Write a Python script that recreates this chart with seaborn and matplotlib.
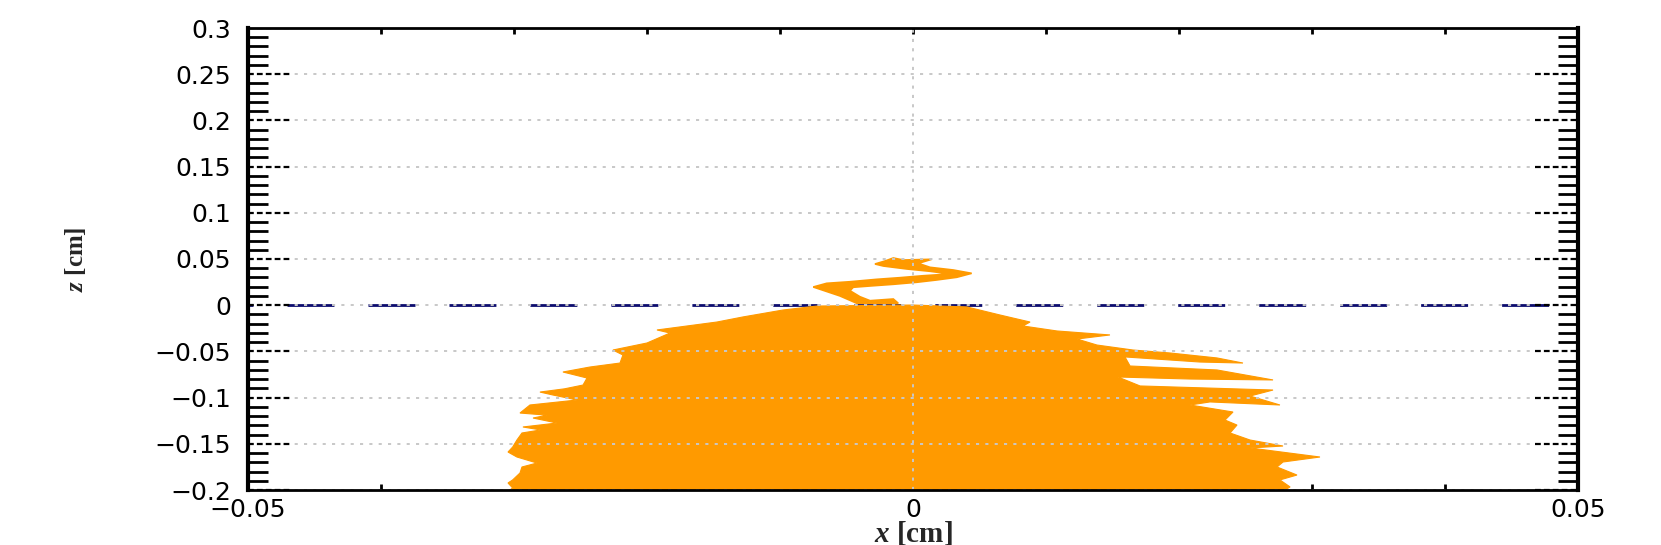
import numpy as np
import pandas as pd
import seaborn as sns
import matplotlib.pyplot as plt
from matplotlib.ticker import FixedLocator, MultipleLocator, FuncFormatter
import matplotlib.transforms as mtransforms

# outline of the orange cloud, left edge (bottom -> top)
left_x = [-0.0303, -0.0301, -0.03045, -0.0301, -0.02955, -0.0294, -0.02827, -0.02978,
          -0.03045, -0.0301, -0.02978, -0.0294, -0.0280, -0.02933, -0.02677, -0.02857,
          -0.0275, -0.02955, -0.0288, -0.02526, -0.02707, -0.02805, -0.0262, -0.02481,
          -0.02451, -0.02632, -0.02429, -0.02203, -0.02181, -0.02256, -0.0200, -0.01827,
          -0.01925, -0.01474, -0.01278, -0.00977, -0.00722, 0.0]
left_z = [-0.2000, -0.1978, -0.1924, -0.1891, -0.1816, -0.1751, -0.1708, -0.1643,
          -0.1589, -0.1535, -0.1459, -0.1383, -0.1350, -0.1318, -0.1275, -0.1221,
          -0.1190, -0.1167, -0.1080, -0.1026, -0.0972, -0.0940, -0.0905, -0.0864,
          -0.0788, -0.0723, -0.0669, -0.0626, -0.0539, -0.0485, -0.0409, -0.0301,
          -0.0268, -0.0182, -0.0127, -0.0052, -0.0009, 0.0002]

# right edge (top -> bottom), with the white streaks between fingers
right_x = [0.00406, 0.00654, 0.0088, 0.00827, 0.01083, 0.01481, 0.01233, 0.01383,
           0.01654, 0.01932, 0.02286, 0.02481, 0.02158, 0.01594, 0.01632, 0.02286,
           0.02707, 0.02083, 0.01541, 0.01707, 0.02707, 0.02534, 0.02759, 0.02233,
           0.02083, 0.02406, 0.02346, 0.02436, 0.02384, 0.02534, 0.02782, 0.02534,
           0.0306, 0.02782, 0.02737, 0.02887, 0.02759, 0.02835, 0.02797]
right_z = [-0.0019, -0.0106, -0.0182, -0.0225, -0.0279, -0.0322, -0.0366, -0.0431,
           -0.0485, -0.0517, -0.0571, -0.0626, -0.0615, -0.0560, -0.0658, -0.0701,
           -0.0809, -0.0799, -0.0777, -0.0874, -0.0918, -0.0983, -0.1080, -0.1047,
           -0.1080, -0.1156, -0.1243, -0.1297, -0.1383, -0.1459, -0.1524, -0.1545,
           -0.1643, -0.1697, -0.1751, -0.1838, -0.1891, -0.1967, -0.2000]

# zig-zag tail rising above z = 0
tail_x = [-0.00423, -0.00549, -0.0075, -0.00649, -0.00474, -0.00273, -0.00098, 0.00077,
          0.00278, 0.00128, -0.00047, -0.00223, -0.00286, -0.00211, -0.00148, -0.00073,
          0.00141, 0.0004, 0.00128, 0.00303, 0.00441, 0.00329, 0.00178, 0.00028,
          -0.00148, -0.00323, -0.00449, -0.00474, -0.00399, -0.00323, -0.00148, -0.00111]
tail_z = [0.0021, 0.0100, 0.0197, 0.0237, 0.0254, 0.0280, 0.0298, 0.0319,
          0.0338, 0.0367, 0.0392, 0.0424, 0.0446, 0.0478, 0.0511, 0.0489,
          0.0497, 0.0453, 0.0410, 0.0381, 0.0345, 0.0302, 0.0273, 0.0248,
          0.0226, 0.0208, 0.0194, 0.0157, 0.0092, 0.0049, 0.0067, 0.0021]

surface_x = [-0.05, 0.05]
surface_z = [0.0, 0.0]

xticks = [-0.05, -0.04, -0.03, -0.02, -0.01, 0.0, 0.01, 0.02, 0.03, 0.04, 0.05]
xlabeled = [-0.05, 0.0, 0.05]
yticks = [-0.2, -0.15, -0.1, -0.05, 0.0, 0.05, 0.1, 0.15, 0.2, 0.25, 0.3]

sns.set_theme(style="white")
plt.rcParams["font.family"] = ["DejaVu Sans"]
plt.rcParams["mathtext.fontset"] = "custom"
plt.rcParams["mathtext.it"] = "Liberation Serif:italic:bold"
plt.rcParams["mathtext.rm"] = "Liberation Serif:bold"

fig = plt.figure(figsize=(16.61, 5.45), dpi=100)
ax = fig.add_axes([248 / 1661, 1 - 490 / 545, 1330 / 1661, 462 / 545])

# z = 0 line, under the cloud
lw_s = 2.0
surf = pd.DataFrame({"x": surface_x, "z": surface_z})
sns.lineplot(data=surf, x="x", y="z", ax=ax, color="#0c0c6e", lw=lw_s, zorder=1,
             estimator=None, sort=False)
ax.lines[-1].set_linestyle((30.2 / lw_s, (33.8 / lw_s, 24.5 / lw_s)))

orange = "#ff9a00"
ax.fill(left_x + right_x, left_z + right_z, color=orange, lw=0.8, ec=orange, zorder=2)
ax.fill(tail_x, tail_z, color=orange, lw=1.2, ec=orange, zorder=2)

ax.set_xlim(-0.05, 0.05)
ax.set_ylim(-0.2, 0.3)

# grid: horizontal every 0.05, vertical only at 0
for v in yticks:
    ax.axhline(v, color="#c8c8c8", lw=1.4, ls=(0, (1.6, 3.2)), zorder=3)
ax.axvline(0.0, color="#c8c8c8", lw=1.4, ls=(0, (1.6, 3.2)), zorder=3)

# dashed major y ticks on both sides
trans = mtransforms.blended_transform_factory(ax.transAxes, ax.transData)
ax.hlines(yticks, 0, 43 / 1330, transform=trans, color="black", lw=1.6,
          ls=(0, (2.6, 1.4)), zorder=4)
ax.hlines(yticks, 1 - 43 / 1330, 1, transform=trans, color="black", lw=1.6,
          ls=(0, (2.6, 1.4)), zorder=4)

ax.yaxis.set_major_locator(FixedLocator(yticks))
ax.yaxis.set_minor_locator(MultipleLocator(0.01))
ax.yaxis.set_major_formatter(FuncFormatter(lambda v, p: f"{v:g}".replace("-", "\u2212")))
ax.tick_params(axis="y", which="major", length=0, pad=12, labelsize=18, colors="black")
ax.tick_params(axis="y", which="minor", length=14.5, width=2.0, direction="in",
               left=True, right=True, color="black")

ax.xaxis.set_major_locator(FixedLocator(xticks))
ax.xaxis.set_major_formatter(FuncFormatter(
    lambda v, p: (f"{v:g}".replace("-", "\u2212") if any(abs(v - t) < 1e-9 for t in xlabeled) else "")))
ax.tick_params(axis="x", which="major", length=4, width=2.0, direction="in",
               top=True, bottom=True, pad=6, labelsize=18, colors="black")

for side in ["left", "right"]:
    ax.spines[side].set_linewidth(3.0)
    ax.spines[side].set_color("black")
for side in ["top", "bottom"]:
    ax.spines[side].set_linewidth(2.0)
    ax.spines[side].set_color("black")
    ax.spines[side].set_linestyle((0, (2.5, 1.0)))
for sp in ax.spines.values():
    sp.set_zorder(5)

ax.set_xlabel("$x$ [cm]", fontsize=21, fontfamily="Liberation Serif", fontweight="bold",
              labelpad=-2)
ax.set_ylabel("$z$ [cm]", fontsize=18, fontfamily="Liberation Serif", fontweight="bold")
ax.yaxis.set_label_coords(-160 / 1330, 0.5)

fig.savefig("out.png", dpi=100)
